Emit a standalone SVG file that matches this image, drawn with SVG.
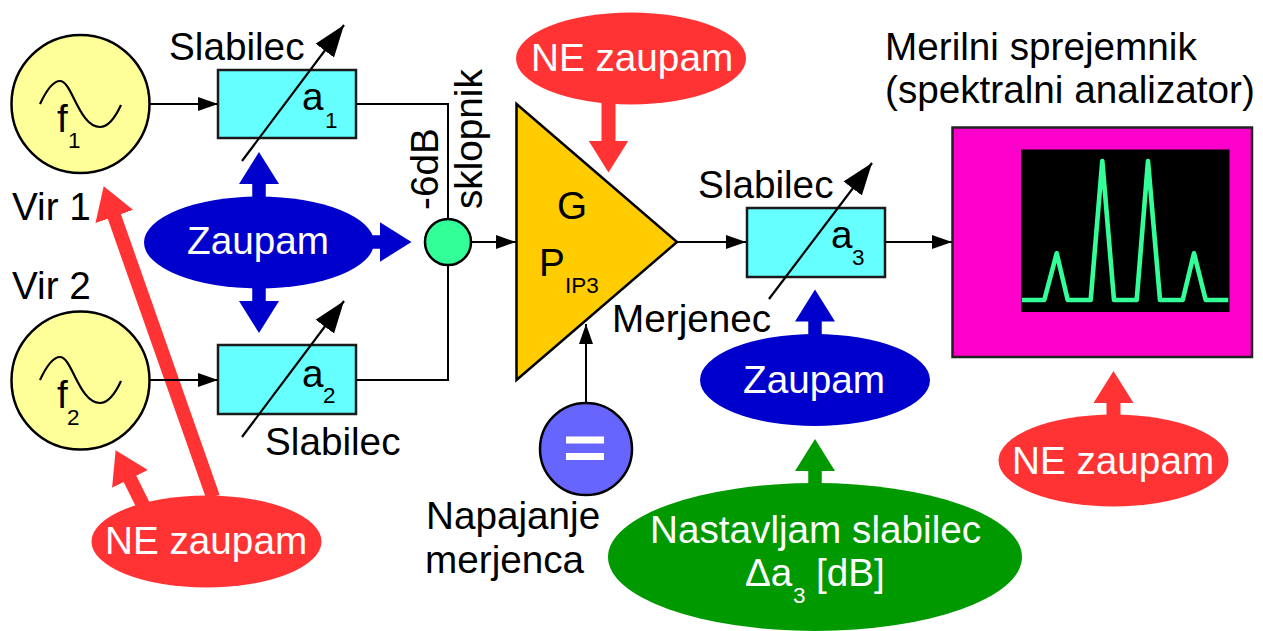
<svg xmlns="http://www.w3.org/2000/svg" width="1263" height="631" viewBox="0 0 1263 631">
<style>
text{font-family:"Liberation Sans",Arial,sans-serif;font-size:38.7px;fill:#000}
text.w{fill:#fff}
text.s{font-size:22.500px}
.wire{fill:none;stroke:#000;stroke-width:2}
.box{fill:#66ffff;stroke:#1a1a1a;stroke-width:2.5}
.src{fill:#ffff99;stroke:#000;stroke-width:2.5}
.sine{fill:none;stroke:#000;stroke-width:2.2}
.adj{stroke:#000;stroke-width:2.2;marker-end:url(#adjHead)}
.in{marker-end:url(#thin)}
.b{stroke:#0000cc;stroke-width:13.5;marker-end:url(#bH)}
.r{stroke:#ff3333;stroke-width:14;marker-end:url(#rH)}
.g{stroke:#009900;stroke-width:13.5;marker-end:url(#gH)}
</style>
<defs>
<marker id="thin" markerUnits="userSpaceOnUse" markerWidth="21" markerHeight="16" refX="20" refY="8" orient="auto"><path d="M0 1 20 8 0 15z" fill="#000"/></marker>
<marker id="adjHead" markerUnits="userSpaceOnUse" markerWidth="33" markerHeight="24" refX="32" refY="12" orient="auto"><path d="M0 .5 32 12 0 23.500z" fill="#000"/></marker>
<marker id="bH" markerUnits="userSpaceOnUse" markerWidth="33" markerHeight="40" refX="1" refY="20" orient="auto"><path d="M0 0 32 20 0 40z" fill="#0000cc"/></marker>
<marker id="rH" markerUnits="userSpaceOnUse" markerWidth="33" markerHeight="40" refX="1" refY="20" orient="auto"><path d="M0 0 32 20 0 40z" fill="#ff3333"/></marker>
<marker id="gH" markerUnits="userSpaceOnUse" markerWidth="33" markerHeight="40" refX="1" refY="20" orient="auto"><path d="M0 0 32 20 0 40z" fill="#009900"/></marker>
</defs>

<g id="block-arrows">
<line class="r" x1="213" y1="497" x2="114" y2="215.500"/>
<line class="r" x1="143" y1="505" x2="129.500" y2="478"/>
<line class="r" x1="608.500" y1="100" x2="608.500" y2="141.500"/>
<line class="r" x1="1113.500" y1="420" x2="1113.500" y2="402"/>
<line class="b" x1="259" y1="200" x2="259" y2="183"/>
<line class="b" x1="259" y1="285" x2="259" y2="302"/>
<line class="b" x1="370" y1="242" x2="380.500" y2="242"/>
<line class="b" x1="815" y1="338" x2="815" y2="320.500"/>
<line class="g" x1="815" y1="487" x2="815" y2="470"/>
</g>

<g id="source-1">
<circle class="src" cx="80.500" cy="104" r="69"/>
<path class="sine" d="M40 104C47 89 53 81 60 81C72 81 79 127 100 127C108 127 115 118 121 105"/>
<text x="57" y="132">f</text><text class="s" x="68" y="148">1</text>
<text x="12" y="220">Vir 1</text>
</g>
<g id="source-2">
<circle class="src" cx="80.500" cy="380.500" r="69"/>
<path class="sine" d="M40 380C47 365 53 357 60 357C72 357 79 403 100 403C108 403 115 394 121 381"/>
<text x="57" y="408">f</text><text class="s" x="67" y="425">2</text>
<text x="12" y="299">Vir 2</text>
</g>

<g id="attenuator-1">
<rect class="box" x="218" y="70" width="138" height="68"/>
<text x="302" y="110">a</text><text class="s" x="325" y="128">1</text>
<text x="169" y="60">Slabilec</text>
<line class="adj" x1="242" y1="161" x2="344" y2="25"/>
</g>
<g id="attenuator-2">
<rect class="box" x="218" y="345" width="138" height="69"/>
<text x="302" y="387">a</text><text class="s" x="323" y="403">2</text>
<text x="265" y="455">Slabilec</text>
<line class="adj" x1="242" y1="437" x2="344" y2="301"/>
</g>
<g id="attenuator-3">
<rect class="box" x="747" y="208" width="138" height="69"/>
<text x="831" y="248">a</text><text class="s" x="852" y="265">3</text>
<text x="698" y="198">Slabilec</text>
<line class="adj" x1="769" y1="299" x2="872" y2="163"/>
<text x="612" y="332">Merjenec</text>
</g>

<g id="connectors">
<line class="wire in" x1="150" y1="104" x2="218" y2="104"/>
<line class="wire in" x1="150" y1="380" x2="218" y2="380"/>
<path class="wire" d="M356 104H448V219"/>
<path class="wire" d="M356 380H448V265"/>
<line class="wire in" x1="471" y1="242" x2="516" y2="242"/>
<line class="wire in" x1="677" y1="242" x2="746" y2="242"/>
<line class="wire in" x1="885" y1="242" x2="952" y2="242"/>
<line class="wire in" x1="586" y1="403" x2="586" y2="324"/>
</g>

<g id="switch">
<circle cx="448" cy="242" r="23" fill="#33ff99" stroke="#000" stroke-width="2.5"/>
<text transform="translate(438 210) rotate(-90)">-6dB</text>
<text transform="translate(482 209) rotate(-90)">sklopnik</text>
</g>
<g id="amplifier">
<path d="M516.500 104 677 242 516.500 380z" fill="#ffcc00" stroke="#000" stroke-width="2.500" stroke-linejoin="miter"/>
<text x="557" y="219">G</text>
<text x="539" y="276">P</text><text class="s" x="565" y="293">IP3</text>
</g>
<g id="power">
<circle cx="586" cy="449" r="46" fill="#6666ff" stroke="#000" stroke-width="2.500"/>
<rect x="566" y="436.500" width="38" height="7" fill="#fff"/>
<rect x="566" y="453" width="38" height="7" fill="#fff"/>
<text x="426" y="529">Napajanje</text>
<text x="425" y="573">merjenca</text>
</g>
<g id="analyzer">
<rect x="952.500" y="127.500" width="299.500" height="229.500" fill="#ff00cc" stroke="#222" stroke-width="2.500"/>
<rect x="1021" y="149.500" width="208.500" height="162.500" fill="#000"/>
<polyline points="1021.700,300 1044.300,300 1056.700,253.300 1067.700,300 1090.700,300 1102.300,161 1114,300 1136.700,300 1148,161 1160,300 1182.700,300 1194,253.300 1205.700,300 1228.300,300" fill="none" stroke="#33ff99" stroke-width="4.600" stroke-linejoin="round"/>
<text x="885" y="60">Merilni sprejemnik</text>
<text x="885" y="103">(spektralni analizator)</text>
</g>

<g id="zaupam-1">
<ellipse cx="259" cy="242.500" rx="115" ry="46" fill="#0000cc"/>
<text class="w" x="187" y="254">Zaupam</text>
</g>
<g id="zaupam-2">
<ellipse cx="815" cy="380" rx="115" ry="46" fill="#0000cc"/>
<text class="w" x="743" y="393">Zaupam</text>
</g>
<g id="ne-zaupam-1">
<ellipse cx="631" cy="58.500" rx="115" ry="46" fill="#ff3333"/>
<text class="w" x="531" y="71">NE zaupam</text>
</g>
<g id="ne-zaupam-2">
<ellipse cx="206.500" cy="541.500" rx="115" ry="46" fill="#ff3333"/>
<text class="w" x="105" y="554">NE zaupam</text>
</g>
<g id="ne-zaupam-3">
<ellipse cx="1113.500" cy="460.500" rx="115" ry="46" fill="#ff3333"/>
<text class="w" x="1012" y="474">NE zaupam</text>
</g>
<g id="nastavljam">
<ellipse cx="815" cy="557" rx="207" ry="74" fill="#009900"/>
<text class="w" x="650" y="543">Nastavljam slabilec</text>
<text class="w" x="745" y="586">Δa</text><text class="w s" x="793" y="603">3</text><text class="w" x="816" y="586">[dB]</text>
</g>
</svg>
